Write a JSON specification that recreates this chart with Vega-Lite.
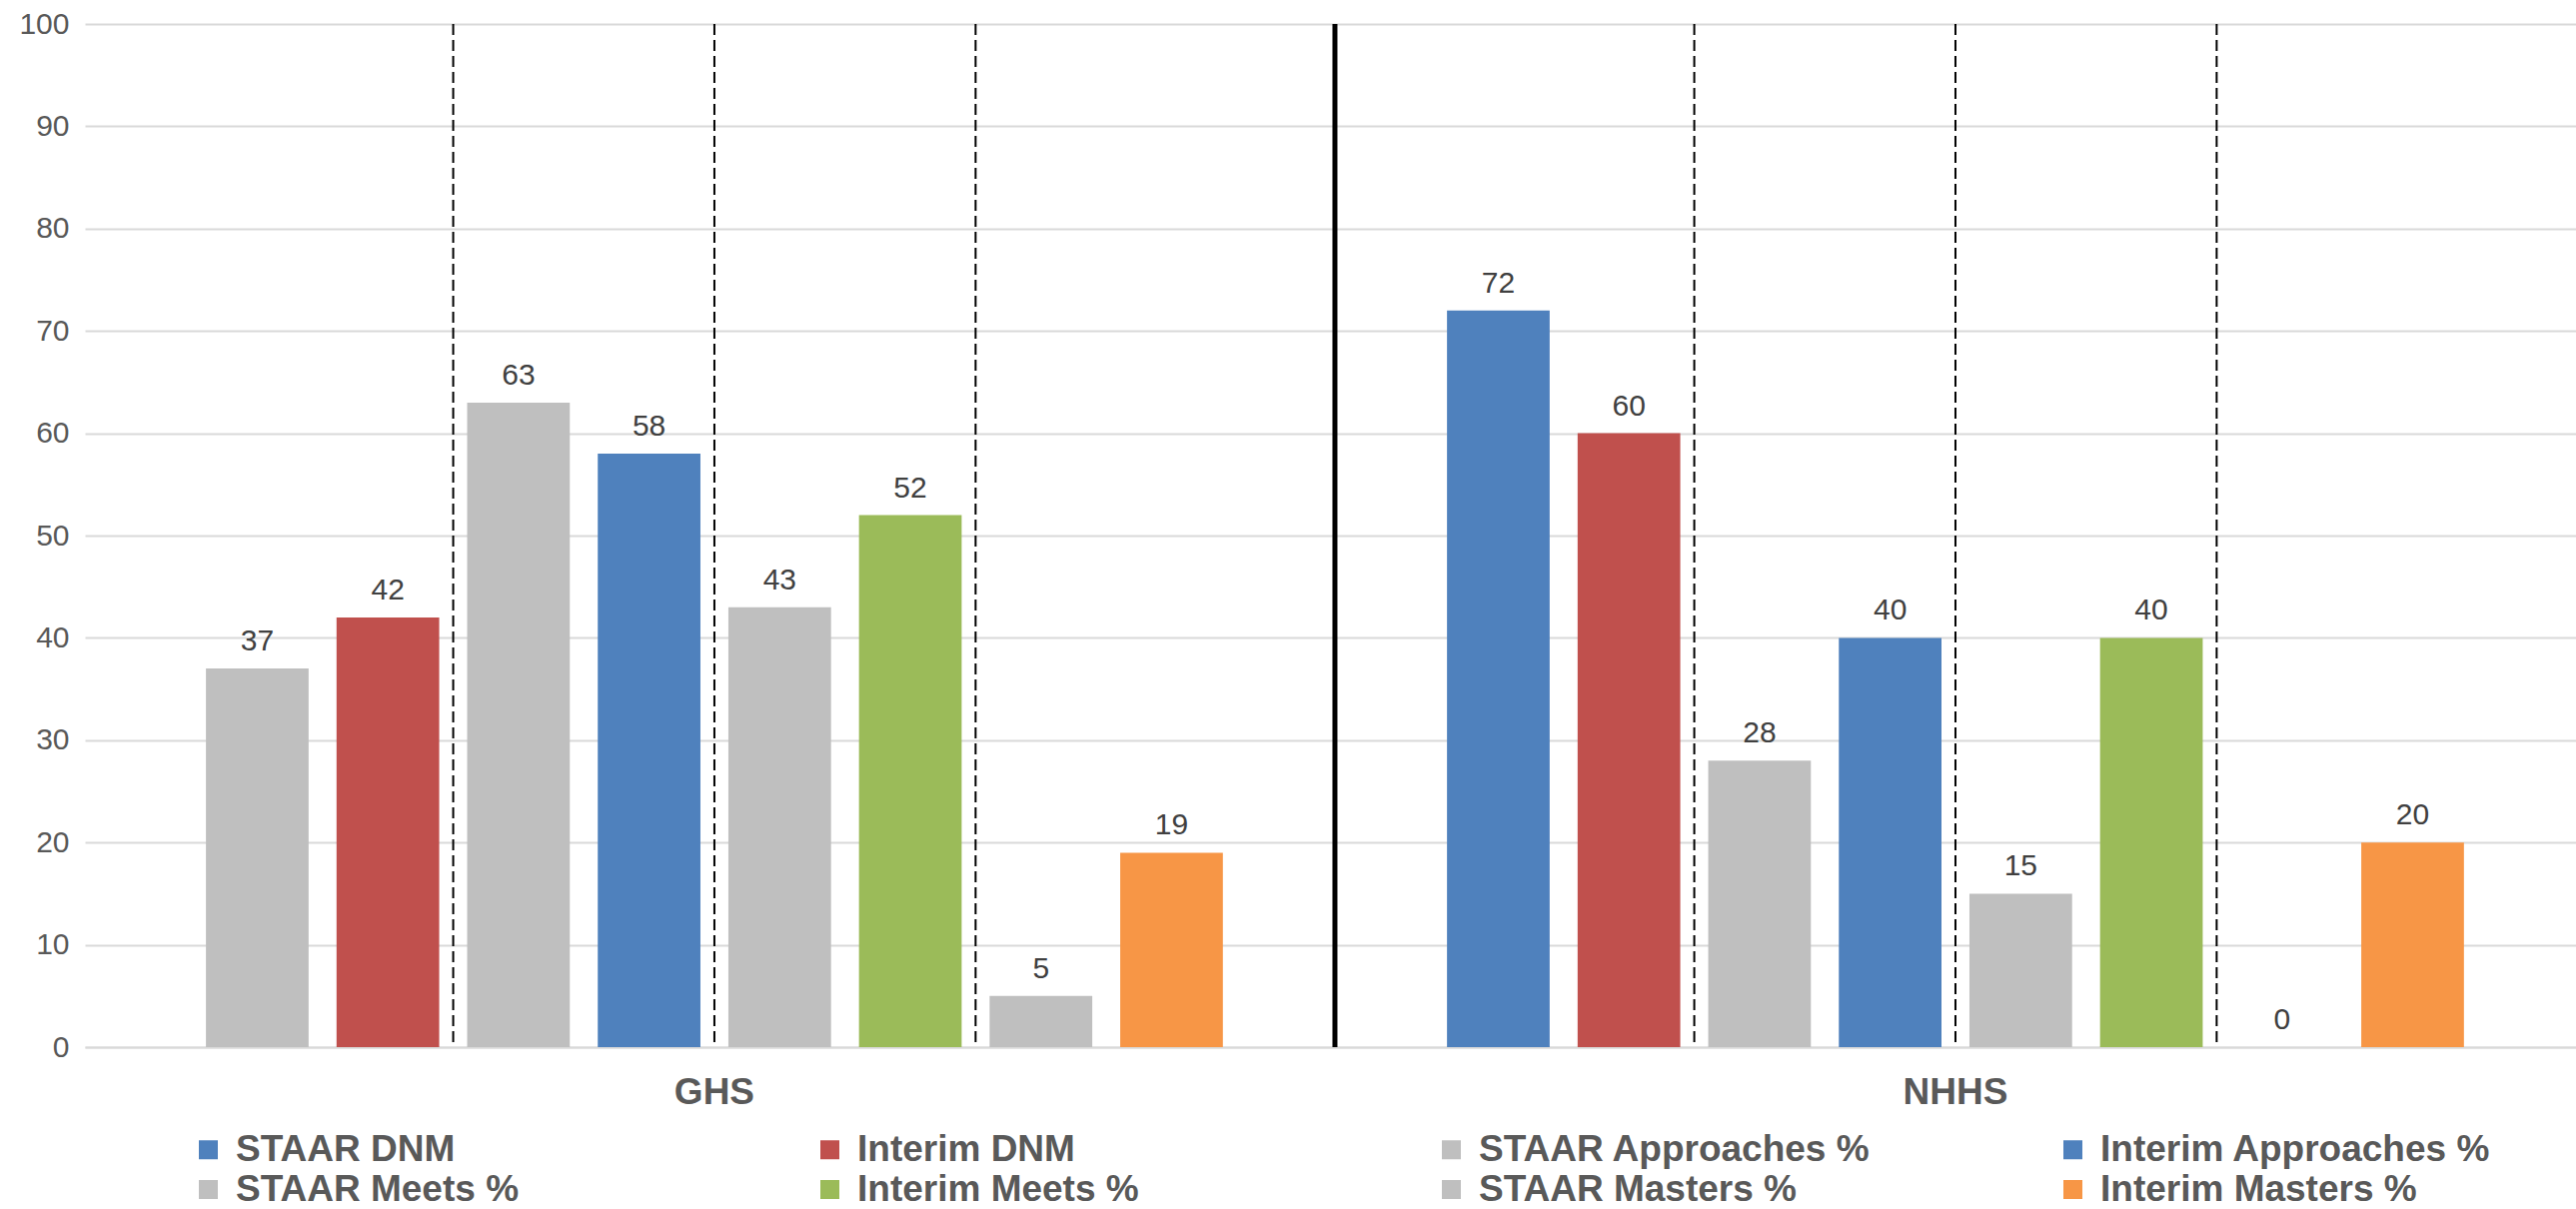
{
  "$schema": "https://vega.github.io/schema/vega-lite/v6.json",
  "width": 2493,
  "height": 1024,
  "autosize": {"type": "none"},
  "padding": {"left": 85, "top": 24, "right": 0, "bottom": 162},
  "background": "white",
  "config": {"view": {"stroke": null}, "font": "Liberation Sans"},
  "datasets": {
    "scores": [
      {"school": "GHS", "series": "STAAR DNM", "value": 37},
      {"school": "GHS", "series": "Interim DNM", "value": 42},
      {"school": "GHS", "series": "STAAR Approaches %", "value": 63},
      {"school": "GHS", "series": "Interim Approaches %", "value": 58},
      {"school": "GHS", "series": "STAAR Meets %", "value": 43},
      {"school": "GHS", "series": "Interim Meets %", "value": 52},
      {"school": "GHS", "series": "STAAR Masters %", "value": 5},
      {"school": "GHS", "series": "Interim Masters %", "value": 19},
      {"school": "NHHS", "series": "STAAR DNM", "value": 72},
      {"school": "NHHS", "series": "Interim DNM", "value": 60},
      {"school": "NHHS", "series": "STAAR Approaches %", "value": 28},
      {"school": "NHHS", "series": "Interim Approaches %", "value": 40},
      {"school": "NHHS", "series": "STAAR Meets %", "value": 15},
      {"school": "NHHS", "series": "Interim Meets %", "value": 40},
      {"school": "NHHS", "series": "STAAR Masters %", "value": 0},
      {"school": "NHHS", "series": "Interim Masters %", "value": 20}
    ],
    "dividers": [
      {"school": "GHS", "after": "DNM"},
      {"school": "GHS", "after": "Approaches"},
      {"school": "GHS", "after": "Meets"},
      {"school": "NHHS", "after": "DNM"},
      {"school": "NHHS", "after": "Approaches"},
      {"school": "NHHS", "after": "Meets"}
    ],
    "groupsep": [{"school": "NHHS"}]
  },
  "layer": [
    {
      "data": {"name": "scores"},
      "mark": {"type": "bar"},
      "encoding": {
        "x": {
          "field": "school", "type": "nominal",
          "scale": {"type": "band", "domain": ["GHS", "NHHS"], "paddingInner": 0, "paddingOuter": 0.0036, "align": 1},
          "axis": {"title": null, "labelAngle": 0, "labelFontSize": 37, "labelFontWeight": "bold", "labelColor": "#595959", "labelFont": "Liberation Sans", "ticks": false, "domainColor": "#d9d9d9", "domainWidth": 2, "labelPadding": 27, "labelBaseline": "top"}
        },
        "xOffset": {
          "field": "series", "type": "nominal",
          "scale": {"type": "band", "domain": ["STAAR DNM", "Interim DNM", "STAAR Approaches %", "Interim Approaches %", "STAAR Meets %", "Interim Meets %", "STAAR Masters %", "Interim Masters %"], "paddingInner": 0.214, "paddingOuter": 0.858}
        },
        "y": {
          "field": "value", "type": "quantitative",
          "scale": {"domain": [0, 100], "nice": false},
          "axis": {"title": null, "values": [0, 10, 20, 30, 40, 50, 60, 70, 80, 90, 100], "grid": true, "gridColor": "#d9d9d9", "gridWidth": 2, "domain": false, "ticks": false, "labelFontSize": 30, "labelColor": "#595959", "labelFont": "Liberation Sans", "labelPadding": 16}
        },
        "color": {
          "field": "series", "type": "nominal",
          "condition": {"test": "datum.school === 'GHS' && datum.series === 'STAAR DNM'", "value": "#BFBFBF"},
          "scale": {
            "domain": ["STAAR DNM", "Interim DNM", "STAAR Approaches %", "Interim Approaches %", "STAAR Meets %", "Interim Meets %", "STAAR Masters %", "Interim Masters %"],
            "range": ["#4F81BD", "#C0504D", "#BFBFBF", "#4F81BD", "#BFBFBF", "#9BBB59", "#BFBFBF", "#F79646"]
          },
          "legend": {
            "title": null, "orient": "none", "legendX": 105, "legendY": 1108, "direction": "horizontal", "columns": 4, "gridAlign": "all",
            "symbolType": "square", "symbolSize": 361, "symbolStrokeWidth": 0, "labelFontSize": 37, "labelFontWeight": "bold", "labelColor": "#595959", "labelFont": "Liberation Sans",
            "labelOffset": 9, "labelLimit": 600, "columnPadding": 184, "rowPadding": 2, "padding": 0
          }
        }
      }
    },
    {
      "data": {"name": "scores"},
      "mark": {"type": "text", "baseline": "alphabetic", "dy": -18, "fontSize": 30, "fill": "#404040", "font": "Liberation Sans"},
      "encoding": {
        "x": {"field": "school", "type": "nominal"},
        "xOffset": {
          "field": "series", "type": "nominal",
          "scale": {"type": "band", "domain": ["STAAR DNM", "Interim DNM", "STAAR Approaches %", "Interim Approaches %", "STAAR Meets %", "Interim Meets %", "STAAR Masters %", "Interim Masters %"], "paddingInner": 0.214, "paddingOuter": 0.858}
        },
        "y": {"field": "value", "type": "quantitative"},
        "text": {"field": "value", "type": "quantitative"}
      }
    },
    {
      "data": {"name": "dividers"},
      "mark": {"type": "rule", "strokeDash": [11, 5], "strokeWidth": 2, "color": "black"},
      "encoding": {
        "x": {"field": "school", "type": "nominal"},
        "xOffset": {
          "field": "after", "type": "nominal",
          "scale": {"type": "band", "domain": ["DNM", "Approaches", "Meets"], "paddingInner": 0, "paddingOuter": 0.8757}
        }
      }
    },
    {
      "data": {"name": "groupsep"},
      "mark": {"type": "rule", "strokeWidth": 5, "color": "black"},
      "encoding": {
        "x": {"field": "school", "type": "nominal", "bandPosition": 0}
      }
    }
  ],
  "resolve": {"scale": {"xOffset": "independent"}}
}
